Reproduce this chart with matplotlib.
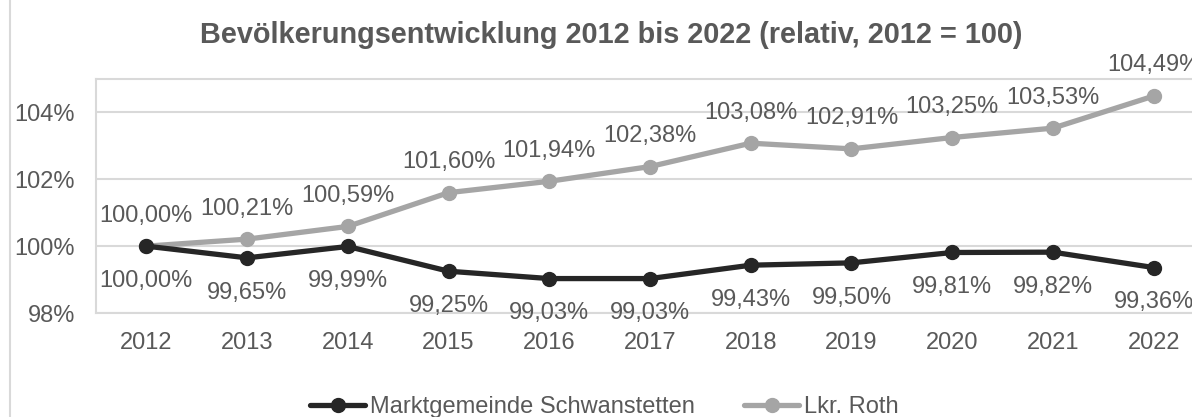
import matplotlib
matplotlib.use("Agg")
import matplotlib.pyplot as plt
from matplotlib.patches import Rectangle

plt.rcParams['font.family'] = ['Liberation Sans', 'DejaVu Sans']

years = ["2012", "2013", "2014", "2015", "2016", "2017", "2018", "2019", "2020", "2021", "2022"]
schwanstetten = [100.00, 99.65, 99.99, 99.25, 99.03, 99.03, 99.43, 99.50, 99.81, 99.82, 99.36]
roth = [100.00, 100.21, 100.59, 101.60, 101.94, 102.38, 103.08, 102.91, 103.25, 103.53, 104.49]
yticks = [98, 100, 102, 104]
title = "Bevölkerungsentwicklung 2012 bis 2022 (relativ, 2012 = 100)"
series_names = ["Marktgemeinde Schwanstetten", "Lkr. Roth"]

TXT = "#595959"
GRID = "#D9D9D9"
BLACK = "#262626"
GRAY = "#A5A5A5"
FS = 17

fig = plt.figure(figsize=(11.92, 4.17), dpi=100)
fig.patch.set_facecolor("white")
fig.patches.append(Rectangle((10/1192, -0.2), 1.2, 1.2 + (1 - 12/417),
                             transform=fig.transFigure, fill=False,
                             edgecolor=GRID, linewidth=1.5, zorder=0))

ax = fig.add_axes([96/1192, 104/417, 1108/1192, 234/417])
x = list(range(len(years)))
ax.plot(x, roth, color=GRAY, lw=3.8, marker="o", ms=10, label=series_names[1], zorder=3,
        solid_capstyle="round")
ax.plot(x, schwanstetten, color=BLACK, lw=3.8, marker="o", ms=10, label=series_names[0], zorder=4,
        solid_capstyle="round")

def fmt(v):
    return f"{v:.2f}".replace(".", ",") + "%"

for xi, v in zip(x, roth):
    ax.annotate(fmt(v), (xi, v), xytext=(0, 22), textcoords="offset points",
                ha="center", va="center", fontsize=FS, color=TXT, zorder=5)
for xi, v in zip(x, schwanstetten):
    ax.annotate(fmt(v), (xi, v), xytext=(0, -25), textcoords="offset points",
                ha="center", va="center", fontsize=FS, color=TXT, zorder=5)

ax.set_xlim(-0.5, len(years) - 0.5)
ax.set_ylim(98, 105)
ax.set_yticks(yticks)
ax.set_yticklabels([f"{t}%" for t in yticks])
ax.set_xticks(x)
ax.set_xticklabels(years)
ax.tick_params(axis="both", length=0, labelsize=FS, labelcolor=TXT)
ax.tick_params(axis="y", pad=15)
ax.tick_params(axis="x", pad=14)
ax.grid(axis="y", color=GRID, lw=1.5, zorder=0)
for s in ax.spines.values():
    s.set_color(GRID)
    s.set_linewidth(1.5)
ax.set_axisbelow(True)

fig.text(611/1192, 1 - 35/417, title, ha="center", va="center", fontsize=20.8,
         fontweight="bold", color=TXT)

h, l = ax.get_legend_handles_labels()
leg = fig.legend(h[::-1], l[::-1], loc="center", bbox_to_anchor=(604.5/1192, 10/417),
                 ncol=2, frameon=False, fontsize=FS, handlelength=2.33,
                 handletextpad=0.2, columnspacing=2.1, borderaxespad=0)
for t in leg.get_texts():
    t.set_color(TXT)

fig.savefig("out.png", dpi=100)
